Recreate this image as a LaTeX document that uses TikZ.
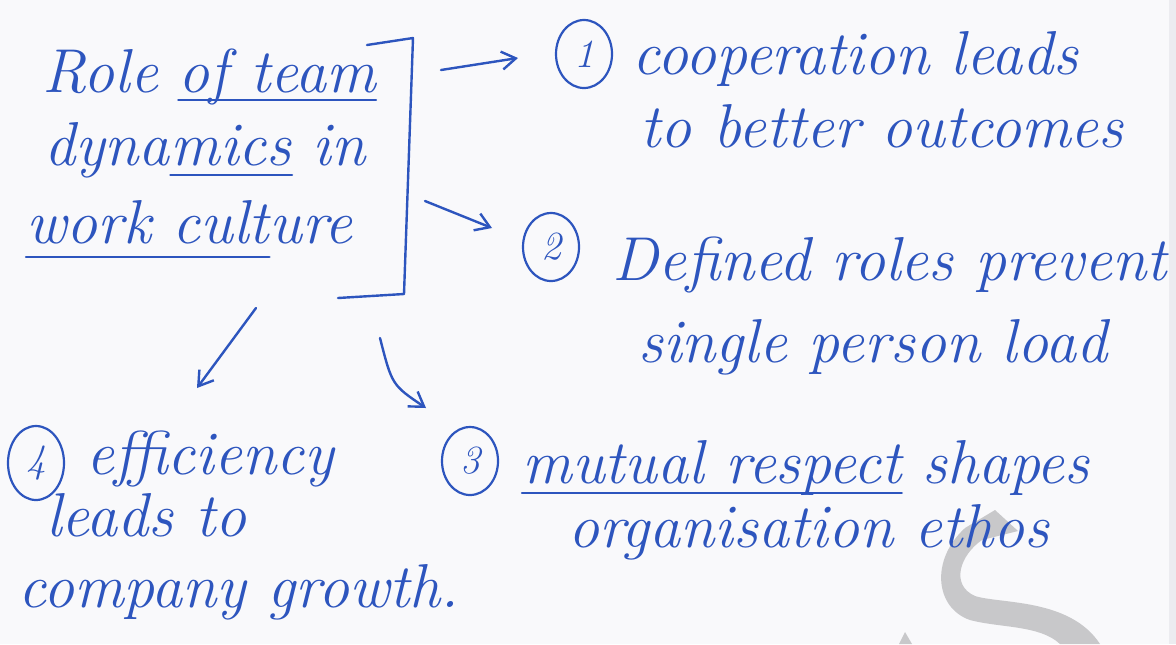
\documentclass[tikz,border=0pt]{standalone}
\usetikzlibrary{arrows.meta,positioning,shapes.geometric}

\definecolor{ink}{RGB}{45,85,190}
\definecolor{paper}{RGB}{249,249,251}
\definecolor{wmgray}{RGB}{200,200,202}
\definecolor{edge}{RGB}{236,236,240}

\tikzset{
  hand/.style={anchor=base west, inner sep=0pt, text=ink,
    font=\fontsize{31}{36}\selectfont\itshape},
  num/.style={draw=ink, line width=1.1pt, ellipse, inner sep=0pt,
    minimum width=28pt, minimum height=34pt, text=ink,
    font=\fontsize{20}{22}\selectfont\itshape},
  pen/.style={draw=ink, line width=1.2pt, line cap=round, line join=round},
  arr/.style={pen, -{Straight Barb[length=7pt,width=9pt,line width=1.2pt]}},
}

\begin{document}
\begin{tikzpicture}[x=0.5pt,y=-0.5pt]
\fill[paper] (0,0) rectangle (1176,644);
\useasboundingbox (0,0) rectangle (1176,644);
\fill[edge] (1169,0) rectangle (1176,644);

% watermark
\fill[wmgray] (995,510) -- (1018,531) -- (982,540)
  .. controls (960,555) and (950,585) .. (975,596)
  .. controls (1000,604) and (1070,598) .. (1100,644)
  -- (1060,644)
  .. controls (1040,625) and (1000,628) .. (970,620)
  .. controls (935,608) and (930,560) .. (965,528) -- cycle;
\fill[wmgray] (899,644) -- (905,632) -- (912,644) -- cycle;

% main topic
\node[hand] (role) at (42,92) {Role};
\node[hand] (ofteam) at ([xshift=10pt]role.base east) {of team};
\node[hand] (dyna) at (44,165) {dyna};
\node[hand] (mics) at (dyna.base east) {mics};
\node[hand] (in) at ([xshift=10pt]mics.base east) {in};
\node[hand] (workcult) at (26,243) {work cult};
\node[hand] (ure) at (workcult.base east) {ure};
\draw[pen] ([yshift=-4pt]ofteam.base west) -- ([yshift=-4pt]ofteam.base east);
\draw[pen] ([yshift=-5pt]mics.base west) -- ([yshift=-5pt]mics.base east);
\draw[pen] ([yshift=-7pt]workcult.base west) -- ([yshift=-7pt]workcult.base east);

% bracket
\coordinate (brtop) at (367,45);
\coordinate (brtr) at (413,38);
\coordinate (brbr) at (404,294);
\coordinate (brbot) at (338,298);
\draw[pen] (brtop) -- (brtr) -- (brbr) -- (brbot);

% point 1
\coordinate (a1s) at (441,70);
\coordinate (a1e) at (518,58);
\draw[arr] (a1s) -- (a1e);
\node[num] (n1) at (584,54) {1};
\node[hand] (t1a) at (632,74) {cooperation leads};
\node[hand] (t1b) at (640,147) {to better outcomes};

% point 2
\coordinate (a2s) at (425,201);
\coordinate (a2e) at (492,228);
\draw[arr] (a2s) -- (a2e);
\node[num] (n2) at (551,247) {2};
\node[hand] (t2a) at (612,280) {Defined roles prevent};
\node[hand] (t2b) at (638,362) {single person load};

% point 4
\coordinate (a4s) at (256,308);
\coordinate (a4e) at (197,388);
\draw[arr] (a4s) -- (a4e);
\node[num, minimum height=37pt] (n4) at (36,463) {4};
\node[hand] (t4a) at (86,474) {efficiency};
\node[hand] (t4b) at (46,536) {leads to};
\node[hand] (t4c) at (18,607) {company growth.};

% point 3
\coordinate (a3s) at (380,338);
\coordinate (a3e) at (426,408);
\draw[arr] (a3s) .. controls (392,385) .. (a3e);
\node[num] (n3) at (470,461) {3};
\node[hand] (mutres) at (522,483) {mutual respect};
\node[hand] (shapes) at ([xshift=10pt]mutres.base east) {shapes};
\draw[pen] ([yshift=-5pt]mutres.base west) -- ([yshift=-5pt]mutres.base east);
\node[hand] (t3b) at (568,547) {organisation ethos};

\end{tikzpicture}
\end{document}
